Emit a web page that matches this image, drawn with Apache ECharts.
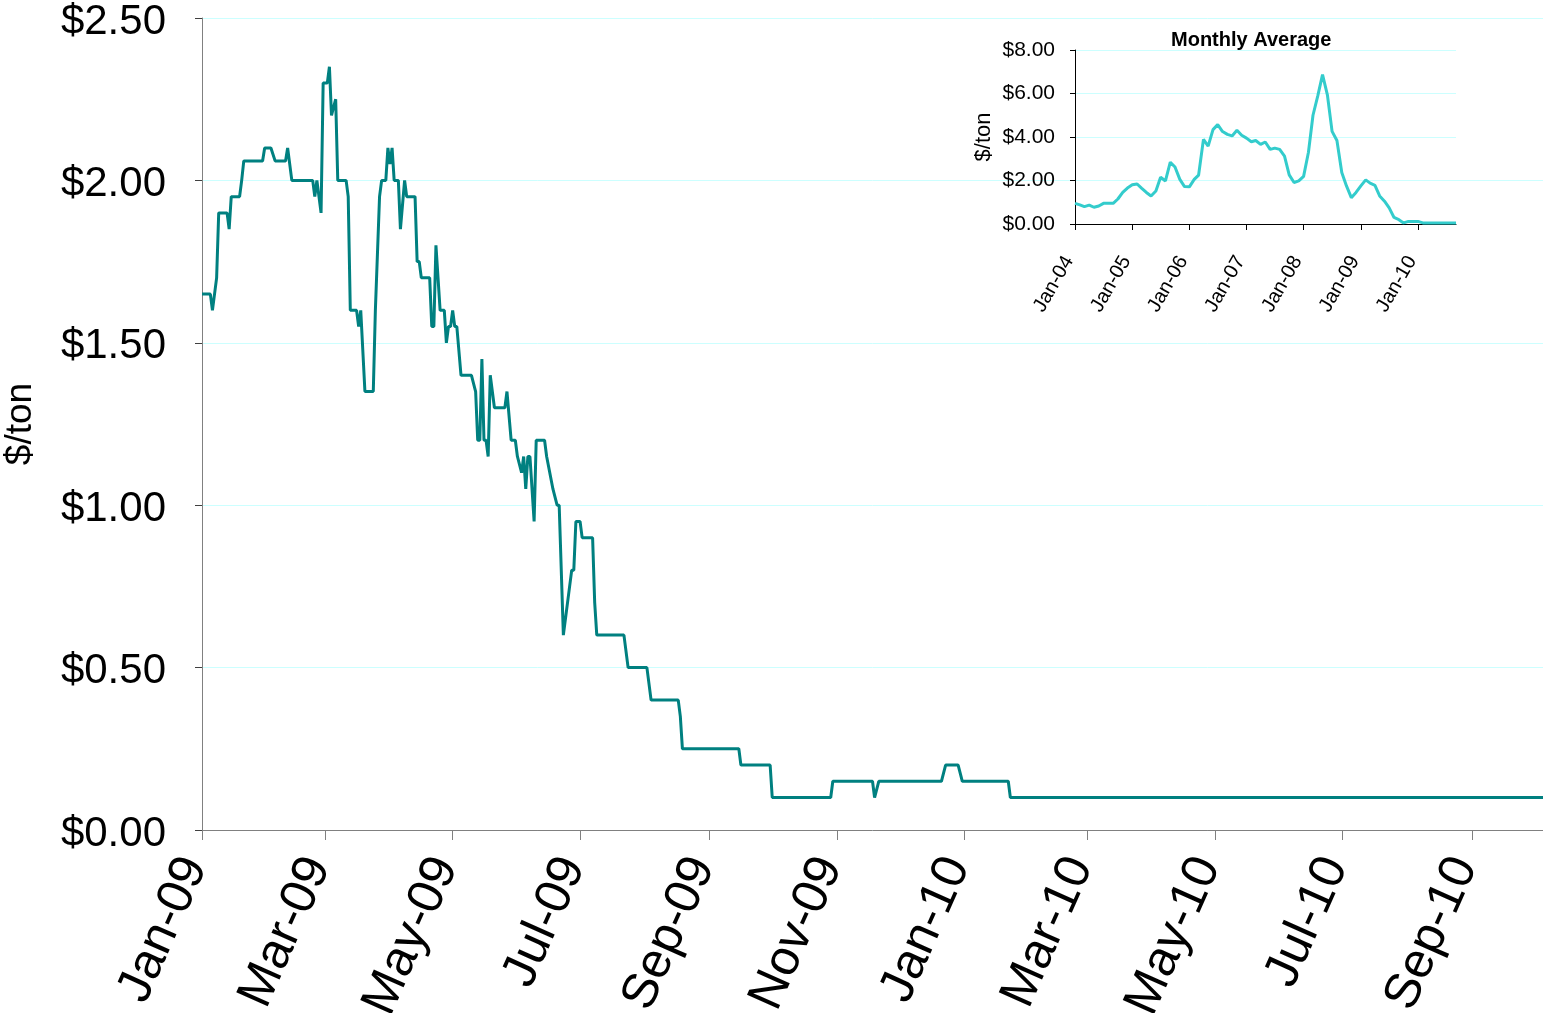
<!DOCTYPE html>
<html>
<head>
<meta charset="utf-8">
<script src="https://cdn.jsdelivr.net/npm/echarts@6/dist/echarts.min.js"></script>
<style>
  html, body { margin: 0; padding: 0; background: #ffffff; }
  #chart { width: 1543px; height: 1013px; }
</style>
</head>
<body>
<div id="chart"></div>
<script>
// daily price, change points
const priceDates = [
  '2009-01-01', '2009-01-05', '2009-01-06', '2009-01-08', '2009-01-09', '2009-01-13', '2009-01-14', '2009-01-15',
  '2009-01-19', '2009-01-20', '2009-01-21', '2009-01-30', '2009-01-31', '2009-02-03', '2009-02-05', '2009-02-10',
  '2009-02-11', '2009-02-13', '2009-02-23', '2009-02-24', '2009-02-25', '2009-02-27', '2009-02-28', '2009-03-02',
  '2009-03-03', '2009-03-04', '2009-03-06', '2009-03-07', '2009-03-11', '2009-03-12', '2009-03-13', '2009-03-16',
  '2009-03-17', '2009-03-18', '2009-03-20', '2009-03-24', '2009-03-25', '2009-03-27', '2009-03-28', '2009-03-30',
  '2009-03-31', '2009-04-01', '2009-04-02', '2009-04-03', '2009-04-05', '2009-04-06', '2009-04-08', '2009-04-09',
  '2009-04-13', '2009-04-14', '2009-04-15', '2009-04-16', '2009-04-20', '2009-04-21', '2009-04-22', '2009-04-23',
  '2009-04-25', '2009-04-27', '2009-04-28', '2009-04-29', '2009-04-30', '2009-05-01', '2009-05-02', '2009-05-03',
  '2009-05-05', '2009-05-10', '2009-05-12', '2009-05-13', '2009-05-14', '2009-05-15', '2009-05-16', '2009-05-17',
  '2009-05-18', '2009-05-19', '2009-05-21', '2009-05-26', '2009-05-27', '2009-05-29', '2009-05-31', '2009-06-01',
  '2009-06-03', '2009-06-04', '2009-06-05', '2009-06-06', '2009-06-07', '2009-06-09', '2009-06-10', '2009-06-14',
  '2009-06-15', '2009-06-18', '2009-06-20', '2009-06-21', '2009-06-23', '2009-06-27', '2009-06-28', '2009-06-29',
  '2009-07-01', '2009-07-02', '2009-07-07', '2009-07-08', '2009-07-09', '2009-07-22', '2009-07-24', '2009-08-02',
  '2009-08-04', '2009-08-17', '2009-08-18', '2009-08-19', '2009-09-15', '2009-09-16', '2009-09-30', '2009-10-01',
  '2009-10-29', '2009-10-30', '2009-11-18', '2009-11-19', '2009-11-21', '2009-12-21', '2009-12-23', '2009-12-29',
  '2009-12-31', '2010-01-22', '2010-01-23', '2010-10-05'
];
const priceValues = [
  1.65, 1.65, 1.60, 1.70, 1.90, 1.90, 1.85, 1.95,
  1.95, 2.00, 2.06, 2.06, 2.10, 2.10, 2.06, 2.06,
  2.10, 2.00, 2.00, 1.95, 2.00, 1.90, 2.30, 2.30,
  2.35, 2.20, 2.25, 2.00, 2.00, 1.95, 1.60, 1.60,
  1.55, 1.60, 1.35, 1.35, 1.60, 1.95, 2.00, 2.00,
  2.10, 2.05, 2.10, 2.00, 2.00, 1.85, 2.00, 1.95,
  1.95, 1.75, 1.75, 1.70, 1.70, 1.55, 1.55, 1.80,
  1.60, 1.60, 1.50, 1.55, 1.55, 1.60, 1.55, 1.55,
  1.40, 1.40, 1.35, 1.20, 1.20, 1.45, 1.20, 1.20,
  1.15, 1.40, 1.30, 1.30, 1.35, 1.20, 1.20, 1.15,
  1.10, 1.15, 1.05, 1.15, 1.15, 0.95, 1.20, 1.20,
  1.15, 1.05, 1.00, 1.00, 0.60, 0.80, 0.80, 0.95,
  0.95, 0.90, 0.90, 0.70, 0.60, 0.60, 0.50, 0.50,
  0.40, 0.40, 0.35, 0.25, 0.25, 0.20, 0.20, 0.10,
  0.10, 0.15, 0.15, 0.10, 0.15, 0.15, 0.20, 0.20,
  0.15, 0.15, 0.10, 0.10
];
const tickDates = [
  '2009-01-01', '2009-03-01', '2009-05-01', '2009-07-01', '2009-09-01', '2009-11-01',
  '2010-01-01', '2010-03-01', '2010-05-01', '2010-07-01', '2010-09-01'
];
const tickLabels = [
  'Jan-09', 'Mar-09', 'May-09', 'Jul-09', 'Sep-09', 'Nov-09',
  'Jan-10', 'Mar-10', 'May-10', 'Jul-10', 'Sep-10'
];

// inset: monthly average, Jan-04 .. Sep-10
const avgStart = [2004, 0];
const avgValues = [
  0.95, 0.88, 0.80, 0.87, 0.77, 0.83, 0.95, 0.95, 0.95, 1.15, 1.45, 1.65,
  1.80, 1.84, 1.65, 1.45, 1.29, 1.52, 2.15, 1.98, 2.84, 2.62, 2.05, 1.72,
  1.71, 2.05, 2.25, 3.89, 3.58, 4.34, 4.57, 4.25, 4.12, 4.05, 4.31, 4.08,
  3.95, 3.78, 3.84, 3.66, 3.77, 3.43, 3.49, 3.43, 3.12, 2.26, 1.91, 1.98,
  2.19, 3.30, 5.00, 5.90, 6.87, 5.94, 4.26, 3.84, 2.37, 1.75, 1.21, 1.45,
  1.75, 2.03, 1.88, 1.78, 1.29, 1.05, 0.74, 0.30, 0.20, 0.05, 0.12, 0.12,
  0.12, 0.05, 0.05, 0.05, 0.05, 0.05, 0.05, 0.05, 0.05
];
const avgTickDates = [
  '2004-01-01', '2005-01-01', '2006-01-01', '2007-01-01', '2008-01-01', '2009-01-01', '2010-01-01'
];
const avgTickLabels = ['Jan-04', 'Jan-05', 'Jan-06', 'Jan-07', 'Jan-08', 'Jan-09', 'Jan-10'];

const FONT = '"Liberation Sans", Arial, sans-serif';
const DAY = 86400000;

// dates as whole days since 1970 (UTC), plotted on value axes
function dayNum(s) {
  const p = s.split('-').map(Number);
  return Date.UTC(p[0], p[1] - 1, p[2]) / DAY;
}

const priceData = priceDates.map((d, i) => [dayNum(d), priceValues[i]]);
const tickDays = tickDates.map(dayNum);

const avgData = avgValues.map((v, i) => [Date.UTC(avgStart[0], avgStart[1] + i, 1) / DAY, v]);
const avgTickDays = avgTickDates.map(dayNum);

const money = v => '{m|$' + v.toFixed(2) + '}';

const chart = echarts.init(document.getElementById('chart'));

const option = {
  backgroundColor: '#ffffff',
  animation: false,
  title: {
    text: 'Monthly Average',
    left: 1166,
    top: 25,
    textStyle: { fontFamily: FONT, fontSize: 20, fontWeight: 'bold', color: '#000000' }
  },
  grid: [
    { left: 202, right: 0, top: 18, bottom: 183, containLabel: false, outerBoundsMode: 'none' },
    { left: 1075, right: 87, top: 50, bottom: 789, containLabel: false, outerBoundsMode: 'none' }
  ],
  xAxis: [
    {
      type: 'value',
      gridIndex: 0,
      min: dayNum('2009-01-01'),
      max: dayNum('2010-10-05'),
      axisLine: { lineStyle: { color: '#808080', width: 1 } },
      axisTick: { show: true, length: 10, customValues: tickDays, lineStyle: { color: '#808080' } },
      axisLabel: {
        customValues: tickDays,
        rotate: 66,
        margin: 33,
        color: '#000000',
        formatter: v => {
          const i = tickDays.indexOf(v);
          return i >= 0 ? '{t|' + tickLabels[i] + '}' : '';
        },
        rich: {
          t: { fontFamily: FONT, fontSize: 50, color: '#000000', padding: [0, 0, 16, 0] }
        }
      },
      splitLine: { show: false }
    },
    {
      type: 'value',
      gridIndex: 1,
      min: avgData[0][0],
      max: avgData[avgData.length - 1][0],
      axisLine: { lineStyle: { color: '#000000', width: 1 } },
      axisTick: { show: true, length: 6, customValues: avgTickDays, lineStyle: { color: '#000000' } },
      axisLabel: {
        customValues: avgTickDays,
        rotate: 60,
        margin: 37,
        color: '#000000',
        formatter: v => {
          const i = avgTickDays.indexOf(v);
          return i >= 0 ? '{t|' + avgTickLabels[i] + '}' : '';
        },
        rich: {
          t: { fontFamily: FONT, fontSize: 20, color: '#000000', padding: [0, 0, 14, 0] }
        }
      },
      splitLine: { show: false }
    }
  ],
  yAxis: [
    {
      type: 'value',
      gridIndex: 0,
      min: 0,
      max: 2.5,
      interval: 0.5,
      name: '$/ton',
      nameLocation: 'middle',
      nameGap: 163,
      nameTextStyle: { fontFamily: FONT, fontSize: 37, color: '#000000' },
      axisLine: { show: true, lineStyle: { color: '#808080', width: 1 } },
      axisTick: { show: true, length: 7, lineStyle: { color: '#404040' } },
      axisLabel: {
        margin: 36,
        color: '#000000',
        formatter: money,
        rich: { m: { fontFamily: FONT, fontSize: 42, color: '#000000', padding: [8, 0, 0, 0] } }
      },
      splitLine: { show: true, lineStyle: { color: '#ccffff', width: 1 } }
    },
    {
      type: 'value',
      gridIndex: 1,
      min: 0,
      max: 8,
      interval: 2,
      name: '$/ton',
      nameLocation: 'middle',
      nameGap: 80,
      nameTextStyle: { fontFamily: FONT, fontSize: 22, color: '#000000' },
      axisLine: { show: true, lineStyle: { color: '#000000', width: 1 } },
      axisTick: { show: true, length: 5, lineStyle: { color: '#000000' } },
      axisLabel: {
        margin: 20,
        color: '#000000',
        formatter: money,
        rich: { m: { fontFamily: FONT, fontSize: 21, color: '#000000' } }
      },
      splitLine: { show: true, lineStyle: { color: '#ccffff', width: 1 } }
    }
  ],
  series: [
    {
      name: 'Daily',
      type: 'line',
      xAxisIndex: 0,
      yAxisIndex: 0,
      data: priceData,
      showSymbol: false,
      lineStyle: { color: '#008080', width: 3 },
      z: 3
    },
    {
      name: 'Monthly Average',
      type: 'line',
      xAxisIndex: 1,
      yAxisIndex: 1,
      data: avgData,
      showSymbol: false,
      lineStyle: { color: '#33cccc', width: 3 },
      z: 4
    }
  ]
};

chart.setOption(option);
</script>
</body>
</html>
